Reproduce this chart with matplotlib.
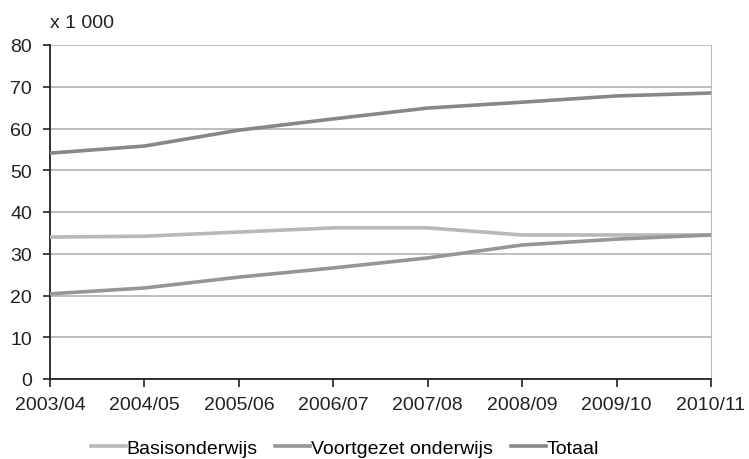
import matplotlib
matplotlib.use("Agg")
import matplotlib.pyplot as plt

plt.rcParams['font.family'] = ['Liberation Sans', 'DejaVu Sans']

years = ["2003/04", "2004/05", "2005/06", "2006/07", "2007/08", "2008/09", "2009/10", "2010/11"]
basisonderwijs = [34.0, 34.2, 35.2, 36.2, 36.2, 34.5, 34.5, 34.5]
voortgezet = [20.4, 21.8, 24.4, 26.6, 29.0, 32.1, 33.5, 34.5]
totaal = [54.1, 55.8, 59.6, 62.3, 64.9, 66.3, 67.8, 68.5]
yticks = [0, 10, 20, 30, 40, 50, 60, 70, 80]

fig = plt.figure(figsize=(7.49, 4.60), dpi=100)
ax = fig.add_axes([50/749, 1 - 380/460, (711 - 50)/749, (380 - 46)/460])

x = list(range(len(years)))
ax.plot(x, basisonderwijs, color="#b8b8b8", lw=2.6, label="Basisonderwijs", zorder=3)
ax.plot(x, voortgezet, color="#969696", lw=2.6, label="Voortgezet onderwijs", zorder=3)
ax.plot(x, totaal, color="#878787", lw=2.6, label="Totaal", zorder=3)

ax.set_xlim(0, len(years) - 1)
ax.set_ylim(0, 80)
ax.set_xticks(x)
ax.set_xticklabels(years)
ax.set_yticks(yticks)
ax.yaxis.grid(True, color="#b8b8b8", lw=1.3)
ax.set_axisbelow(True)

ax.spines["top"].set_visible(False)
ax.spines["right"].set_color("#b8b8b8")
ax.spines["left"].set_color("#222222")
ax.spines["bottom"].set_color("#222222")
ax.spines["left"].set_linewidth(1.3)
ax.spines["bottom"].set_linewidth(1.3)
ax.tick_params(axis="x", direction="out", length=6, width=1.2, labelsize=14, pad=6, colors="#222222")
ax.tick_params(axis="y", direction="out", length=5, width=1.2, labelsize=14, pad=8, colors="#222222")

fig.text(50/749, 1 - 24/460, "x 1 000", fontsize=14, color="#222222", va="center", ha="left")

fig.legend(loc="center", bbox_to_anchor=(345/749, 1 - 449/460), ncol=3, frameon=False,
           fontsize=14, handlelength=1.8, handletextpad=0.05, columnspacing=0.9)

fig.savefig("out.png", dpi=100)
